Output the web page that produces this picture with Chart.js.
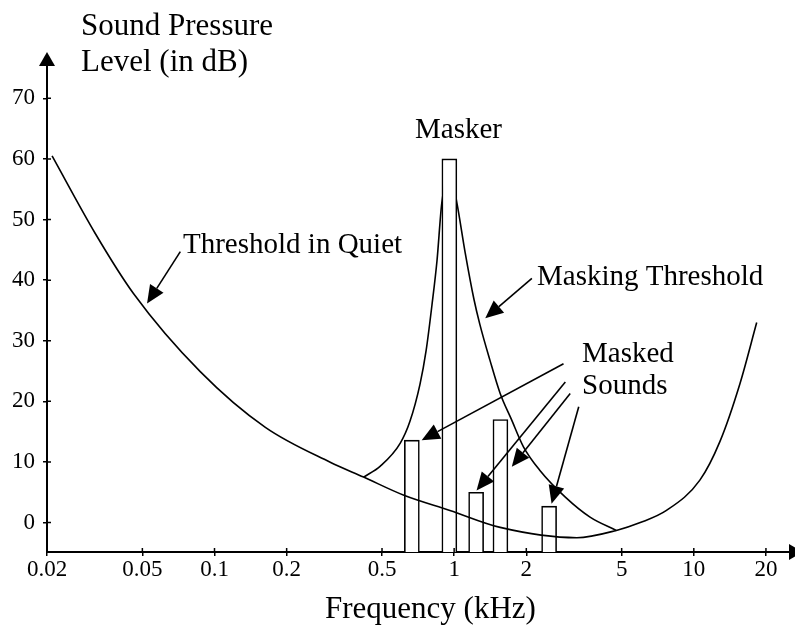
<!DOCTYPE html>
<html>
<head>
<meta charset="utf-8">
<script src="https://cdn.jsdelivr.net/npm/chart.js@4.4.1/dist/chart.umd.min.js"></script>
<style>
  html, body { margin: 0; padding: 0; background: #fff; }
  #wrap { width: 795px; height: 625px; }
</style>
</head>
<body>
<div id="wrap"><canvas id="chart"></canvas></div>
<script>
const X_TICKS = [0.02, 0.05, 0.1, 0.2, 0.5, 1, 2, 5, 10, 20];
const Y_TICKS = [0, 10, 20, 30, 40, 50, 60, 70];

// threshold in quiet (kHz / dB)
const quietFreq = [0.021, 0.0318, 0.0459, 0.0872, 0.163, 0.304, 0.419, 0.617, 0.96, 1.556, 3.25, 4.75, 5.98, 7.69, 10.6, 12.86, 15.6, 18.3];
const quietLevel = [60.5, 47.7, 37.8, 24.9, 15.7, 9.95, 7.5, 4.5, 2.0, -0.8, -2.5, -1.3, 0.0, 2.0, 7.0, 13.4, 23, 33];

// masking threshold around the 1 kHz masker
const maskFreq = [0.419, 0.492, 0.596, 0.654, 0.720, 0.764, 0.808, 0.848, 0.888, 0.96, 1.027, 1.112, 1.21, 1.28, 1.41, 1.556, 1.73, 1.946, 2.28, 2.91, 3.69, 4.75];
const maskLevel = [7.5, 9.3, 13.1, 16.7, 22.8, 28.4, 35.9, 43.2, 52.7, 58, 52.7, 44.5, 36.8, 32.7, 26.8, 21.3, 17.1, 12.5, 8.6, 4.2, 0.9, -1.3];

// masker + masked tones
const toneFreq = [0.666, 0.955, 1.235, 1.56, 2.49];
const toneLevel = [13.6, 60, 5, 17, 2.7];

const FONT = "'Liberation Serif', 'Times New Roman', serif";
Chart.defaults.font.family = FONT;
Chart.defaults.color = '#000';

// arrows of the annotations, [from, to] in kHz / dB
const arrows = [
  [[0.072, 44.7], [0.0523, 36.15]],
  [[2.11, 40.3], [1.348, 33.7]],
  [[2.86, 26.2], [0.732, 13.6]],
  [[2.91, 23.2], [1.24, 5.3]],
  [[3.05, 21.3], [1.74, 9.2]],
  [[3.31, 19.1], [2.55, 3.1]]
];

const labels = [
  { text: 'Sound Pressure', x: 81, y: 35, size: 31 },
  { text: 'Level (in dB)', x: 81, y: 71, size: 31 },
  { text: 'Frequency (kHz)', x: 325, y: 618, size: 31 },
  { text: 'Threshold in Quiet', x: 183, y: 253, size: 29 },
  { text: 'Masker', x: 415, y: 138, size: 29 },
  { text: 'Masking Threshold', x: 537, y: 285, size: 29 },
  { text: 'Masked', x: 582, y: 362, size: 29 },
  { text: 'Sounds', x: 582, y: 394, size: 29 }
];

function drawArrow(ctx, x1, y1, x2, y2) {
  const ang = Math.atan2(y2 - y1, x2 - x1);
  const len = 18, half = 8;
  const bx = x2 - len * Math.cos(ang), by = y2 - len * Math.sin(ang);
  ctx.beginPath();
  ctx.moveTo(x1, y1);
  ctx.lineTo(bx, by);
  ctx.stroke();
  ctx.beginPath();
  ctx.moveTo(x2, y2);
  ctx.lineTo(bx + half * Math.sin(ang), by - half * Math.cos(ang));
  ctx.lineTo(bx - half * Math.sin(ang), by + half * Math.cos(ang));
  ctx.closePath();
  ctx.fill();
}

const axisArt = {
  id: 'axisArt',
  afterDraw(chart) {
    const { ctx, chartArea: a, scales: { x, y } } = chart;
    ctx.save();
    ctx.strokeStyle = '#000';
    ctx.fillStyle = '#000';
    ctx.lineWidth = 1.5;

    // inner half of the tick marks
    ctx.beginPath();
    Y_TICKS.forEach(v => {
      const py = y.getPixelForValue(v);
      ctx.moveTo(a.left, py);
      ctx.lineTo(a.left + 4, py);
    });
    X_TICKS.forEach(v => {
      const px = x.getPixelForValue(v);
      ctx.moveTo(px, a.bottom);
      ctx.lineTo(px, a.bottom - 4);
    });
    ctx.stroke();

    // axis arrow heads
    ctx.beginPath();
    ctx.moveTo(a.left, a.top - 13);
    ctx.lineTo(a.left - 8, a.top + 1);
    ctx.lineTo(a.left + 8, a.top + 1);
    ctx.closePath();
    ctx.fill();
    ctx.beginPath();
    ctx.moveTo(a.right + 13, a.bottom);
    ctx.lineTo(a.right - 1, a.bottom - 8);
    ctx.lineTo(a.right - 1, a.bottom + 8);
    ctx.closePath();
    ctx.fill();

    ctx.lineWidth = 1.6;
    arrows.forEach(([from, to]) => {
      drawArrow(ctx,
        x.getPixelForValue(from[0]), y.getPixelForValue(from[1]),
        x.getPixelForValue(to[0]), y.getPixelForValue(to[1]));
    });

    ctx.textBaseline = 'alphabetic';
    ctx.textAlign = 'left';
    labels.forEach(l => {
      ctx.font = l.size + 'px ' + FONT;
      ctx.fillText(l.text, l.x, l.y);
    });
    ctx.restore();
  }
};

const toXY = (xs, ys) => xs.map((v, i) => ({ x: v, y: ys[i] }));

new Chart(document.getElementById('chart'), {
  type: 'bar',
  data: {
    datasets: [
      {
        type: 'line',
        label: 'Threshold in Quiet',
        data: toXY(quietFreq, quietLevel),
        borderColor: '#000',
        borderWidth: 1.6,
        pointRadius: 0,
        cubicInterpolationMode: 'monotone',
        fill: false,
        order: 0
      },
      {
        type: 'bar',
        label: 'Tones',
        data: toXY(toneFreq, toneLevel),
        backgroundColor: '#fff',
        borderColor: '#000',
        borderWidth: 1.6,
        borderSkipped: 'start',
        barThickness: 15,
        base: -4.86,
        order: 1
      },
      {
        type: 'line',
        label: 'Masking Threshold',
        data: toXY(maskFreq, maskLevel),
        borderColor: '#000',
        borderWidth: 1.6,
        pointRadius: 0,
        cubicInterpolationMode: 'monotone',
        fill: false,
        order: 2
      }
    ]
  },
  options: {
    responsive: true,
    maintainAspectRatio: false,
    animation: false,
    layout: { padding: { top: 65, right: 5, left: 0, bottom: 0 } },
    plugins: {
      legend: { display: false },
      tooltip: { enabled: false }
    },
    scales: {
      x: {
        type: 'logarithmic',
        min: 0.02,
        max: 25.2,
        offset: false,
        afterFit: (s) => { s.height = 73; },
        afterBuildTicks: (s) => { s.ticks = X_TICKS.map(v => ({ value: v })); },
        grid: { drawOnChartArea: false, offset: false, tickLength: 4, color: '#000', lineWidth: 1.5 },
        border: { display: true, color: '#000', width: 2 },
        ticks: {
          autoSkip: false,
          maxRotation: 0,
          padding: 0,
          font: { size: 23 },
          color: '#000',
          callback: (v) => String(v)
        }
      },
      y: {
        type: 'linear',
        min: -4.86,
        max: 75.5,
        afterFit: (s) => { s.width = 47; },
        afterBuildTicks: (s) => { s.ticks = Y_TICKS.map(v => ({ value: v })); },
        grid: { drawOnChartArea: false, tickLength: 4, color: '#000', lineWidth: 1.5 },
        border: { display: true, color: '#000', width: 2 },
        ticks: {
          padding: 8,
          font: { size: 23 },
          color: '#000'
        }
      }
    }
  },
  plugins: [axisArt]
});
</script>
</body>
</html>
